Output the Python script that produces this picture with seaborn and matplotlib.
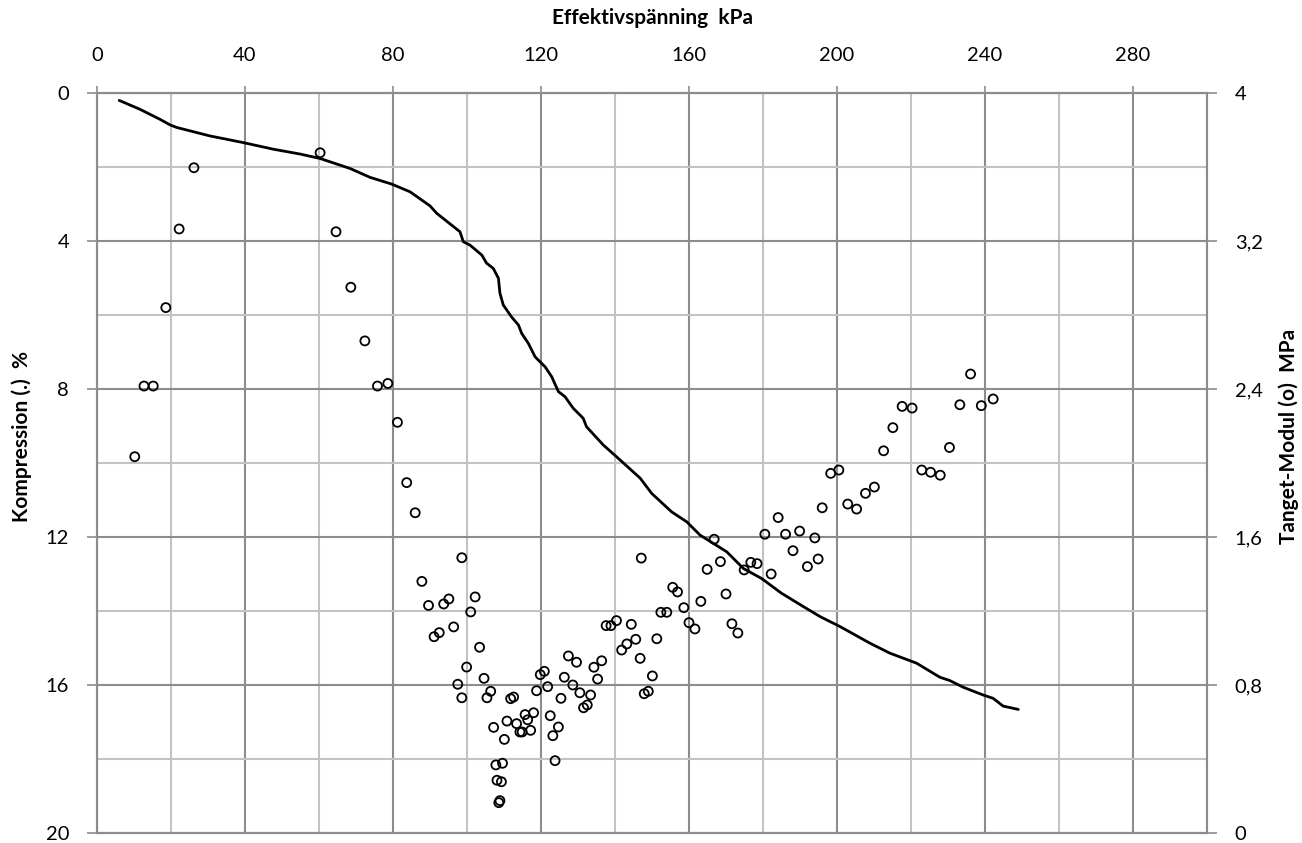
import numpy as np
import pandas as pd
import matplotlib
matplotlib.use("Agg")
import matplotlib.pyplot as plt
from matplotlib.ticker import FixedLocator, FuncFormatter
import seaborn as sns

# Compression curve: effective stress (kPa) vs compression (%)
stress_kpa = [6.0, 11.6, 17.0, 19.7, 21.5, 30.5, 39.5, 47.7, 54.9, 60.3, 68.4, 73.8,
              79.6, 84.6, 90.0, 91.8, 98.1, 99.0, 100.8, 104.0, 105.3, 107.1, 108.5,
              108.9, 109.8, 112.1, 113.9, 114.8, 116.6, 118.4, 121.1, 122.9, 124.7,
              126.5, 128.7, 131.4, 132.3, 136.8, 141.4, 146.8, 149.9, 155.3, 159.4,
              163.0, 170.2, 174.7, 179.6, 185.0, 190.9, 195.4, 200.8, 208.9, 214.3,
              221.5, 227.8, 230.5, 234.1, 239.5, 242.2, 244.9, 249.0]
compression_pct = [0.20, 0.44, 0.71, 0.86, 0.93, 1.16, 1.34, 1.52, 1.65, 1.77, 2.04, 2.28,
                   2.46, 2.67, 3.05, 3.25, 3.75, 4.02, 4.11, 4.38, 4.60, 4.74, 5.01,
                   5.41, 5.73, 6.06, 6.27, 6.50, 6.77, 7.13, 7.40, 7.67, 8.07,
                   8.21, 8.52, 8.79, 9.02, 9.51, 9.92, 10.41, 10.82, 11.32, 11.59,
                   11.95, 12.40, 12.85, 13.12, 13.52, 13.88, 14.15, 14.42, 14.87, 15.14,
                   15.41, 15.79, 15.88, 16.06, 16.27, 16.36, 16.57, 16.66]

# Tangent modulus points: effective stress (kPa) vs modulus (MPa)
modul_stress = [10.2, 12.7, 15.2, 18.6, 22.2, 26.2,
                60.3, 64.6, 68.6, 72.4, 75.8, 78.6, 81.2, 83.7, 86.0,
                87.8, 89.6, 91.1, 92.5, 93.7, 95.1, 96.4, 97.5, 98.6, 98.6, 99.9,
                101.0, 102.2, 103.4, 104.6, 105.4, 106.4, 107.2, 107.8, 108.1, 108.6,
                108.9, 109.3, 109.6, 110.1, 110.8, 111.8, 112.6, 113.4, 114.3, 114.9,
                115.7, 116.4, 117.2, 118.0, 118.8, 119.8, 120.9, 121.8, 122.5, 123.2,
                123.8, 124.7, 125.4, 126.3, 127.4, 128.6, 129.6, 130.5, 131.5, 132.5,
                133.4, 134.3, 135.3, 136.4, 137.6, 138.9, 140.4, 141.8, 143.2, 144.4,
                145.6, 146.8, 147.1, 147.9, 149.0, 150.1, 151.3, 152.4, 154.0, 155.6,
                156.9, 158.6, 160.0, 161.6, 163.2, 164.9, 166.8, 168.5, 170.0, 171.6,
                173.2, 174.9, 176.7, 178.4, 180.5, 182.2, 184.1, 186.1, 188.1, 189.9,
                192.0, 194.0, 194.9, 196.0, 198.3, 200.5, 202.9, 205.3, 207.7, 210.1,
                212.6, 215.1, 217.6, 220.3, 222.9, 225.3, 227.9, 230.4, 233.2, 236.1,
                239.0, 242.2]
modul_mpa = [2.034, 2.416, 2.416, 2.84, 3.265, 3.596,
             3.677, 3.25, 2.95, 2.66, 2.416, 2.43, 2.22, 1.894, 1.731,
             1.36, 1.23, 1.061, 1.083, 1.238, 1.265, 1.114, 0.804, 1.488, 0.731, 0.897,
             1.195, 1.276, 1.004, 0.836, 0.731, 0.766, 0.571, 0.368, 0.285, 0.164,
             0.175, 0.277, 0.377, 0.506, 0.605, 0.726, 0.735, 0.591, 0.546, 0.546,
             0.64, 0.612, 0.555, 0.65, 0.769, 0.856, 0.874, 0.791, 0.634, 0.526,
             0.391, 0.573, 0.728, 0.842, 0.957, 0.80, 0.923, 0.758, 0.677, 0.692,
             0.746, 0.896, 0.832, 0.931, 1.121, 1.121, 1.148, 0.989, 1.022, 1.128,
             1.047, 0.944, 1.486, 0.753, 0.766, 0.849, 1.05, 1.193, 1.193, 1.328,
             1.303, 1.218, 1.137, 1.103, 1.252, 1.425, 1.588, 1.467, 1.292, 1.131,
             1.081, 1.422, 1.463, 1.456, 1.615, 1.40, 1.705, 1.615, 1.526, 1.632,
             1.44, 1.595, 1.481, 1.758, 1.944, 1.962, 1.778, 1.751, 1.836, 1.87,
             2.066, 2.191, 2.306, 2.297, 1.962, 1.95, 1.934, 2.084, 2.315, 2.481,
             2.31, 2.346]

x_ticks = [0, 40, 80, 120, 160, 200, 240, 280]
y_left_ticks = [0, 4, 8, 12, 16, 20]
y_right_ticks = [0, 0.8, 1.6, 2.4, 3.2, 4]

sns.set_theme(style="white")
plt.rcParams["font.family"] = ["Lato", "DejaVu Sans"]

curve = pd.DataFrame({"stress": stress_kpa, "comp": compression_pct})
points = pd.DataFrame({"stress": modul_stress, "modul": modul_mpa})

fig = plt.figure(figsize=(13.02, 8.43), dpi=100)
ax = fig.add_axes([97 / 1302, 1 - 833 / 843, (1207 - 97) / 1302, (833 - 93) / 843])
ax2 = ax.twinx()

major_c = "#8c8c8c"
minor_c = "#c3c3c3"

# compression curve (left axis, inverted)
sns.lineplot(data=curve, x="stress", y="comp", ax=ax, color="black",
             linewidth=2.0, sort=False, zorder=5)
ax.set_xlim(0, 300)
ax.set_ylim(20, 0)

ax.xaxis.set_major_locator(FixedLocator(x_ticks))
ax.xaxis.set_minor_locator(FixedLocator([20, 60, 100, 140, 180, 220, 260]))
ax.yaxis.set_major_locator(FixedLocator(y_left_ticks))
ax.yaxis.set_minor_locator(FixedLocator([2, 6, 10, 14, 18]))
ax.grid(which="major", color=major_c, linewidth=1.5)
ax.grid(which="minor", color=minor_c, linewidth=1.5)
ax.set_axisbelow(True)

ax.xaxis.tick_top()
ax.tick_params(axis="x", which="major", top=True, bottom=False, direction="out",
               length=5, width=1.2, color=major_c, pad=16, labelsize=14.5, labelcolor="black")
ax.tick_params(axis="x", which="minor", top=False, bottom=False)
ax.tick_params(axis="y", which="major", left=True, direction="out", length=7,
               width=1.2, color=major_c, pad=13, labelsize=14.5, labelcolor="black")
ax.tick_params(axis="y", which="minor", left=False)
ax.set_xlabel("")
ax.set_ylabel("")

for s in ax.spines.values():
    s.set_color(major_c)
    s.set_linewidth(1.5)

# tangent modulus points (right axis)
sns.scatterplot(data=points, x="stress", y="modul", ax=ax2, marker="o",
                s=42, facecolor="none", edgecolor="black", linewidth=1.3, zorder=6)
ax2.set_ylim(0, 4)
ax2.yaxis.set_major_locator(FixedLocator(y_right_ticks))
ax2.yaxis.set_major_formatter(FuncFormatter(
    lambda v, p: "0" if v == 0 else ("%g" % v).replace(".", ",")))
ax2.tick_params(axis="y", which="major", right=True, direction="out", length=7,
                width=1.2, color=major_c, pad=13, labelsize=14.5, labelcolor="black")
ax2.set_ylabel("")
ax2.set_xlabel("")
ax2.grid(False)
for s in ax2.spines.values():
    s.set_color(major_c)
    s.set_linewidth(1.5)

title_kw = dict(fontsize=15, fontweight="bold", color="black")
fig.text(652 / 1302, 1 - 18 / 843, "Effektivspänning  kPa", ha="center", va="center", **title_kw)
fig.text(22 / 1302, 1 - 437 / 843, "Kompression (.)  %", ha="center", va="center",
         rotation=90, **title_kw)
fig.text(1289 / 1302, 1 - 436 / 843, "Tanget-Modul (o)  MPa", ha="center", va="center",
         rotation=90, **title_kw)

fig.savefig("out.png", dpi=100)
